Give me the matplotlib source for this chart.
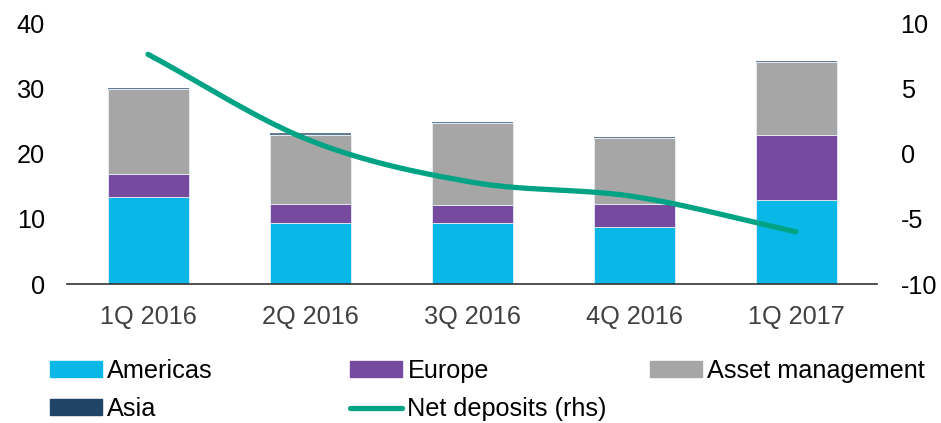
import numpy as np
import matplotlib
matplotlib.use("Agg")
import matplotlib.pyplot as plt
from matplotlib.patches import Patch
from matplotlib.lines import Line2D

plt.rcParams["font.family"] = ["Liberation Sans", "DejaVu Sans"]
plt.rcParams["axes.unicode_minus"] = False

quarters = ["1Q 2016", "2Q 2016", "3Q 2016", "4Q 2016", "1Q 2017"]
americas = [13.4, 9.3, 9.3, 8.75, 12.8]
europe = [3.4, 2.9, 2.8, 3.45, 10.1]
asset_mgmt = [13.1, 10.7, 12.5, 10.2, 11.1]
asia = [0.2, 0.2, 0.2, 0.2, 0.2]
net_deposits = [7.6, 1.0, -2.2, -3.3, -6.0]

C_AMERICAS = "#0ab8e8"
C_EUROPE = "#764a9f"
C_ASSET = "#a6a6a6"
C_ASIA = "#1f4466"
C_LINE = "#00a384"
FS = 18.2


def smooth(xs, ys, n=40):
    # catmull-rom style curve through the points, like excel's smoothed line
    xs = np.asarray(xs, float)
    ys = np.asarray(ys, float)
    px = np.concatenate([[2 * xs[0] - xs[1]], xs, [2 * xs[-1] - xs[-2]]])
    py = np.concatenate([[2 * ys[0] - ys[1]], ys, [2 * ys[-1] - ys[-2]]])
    out_x, out_y = [], []
    t = np.linspace(0, 1, n)
    for i in range(1, len(px) - 2):
        for arr, out in ((px, out_x), (py, out_y)):
            p0, p1, p2, p3 = arr[i - 1], arr[i], arr[i + 1], arr[i + 2]
            seg = 0.5 * ((2 * p1) + (-p0 + p2) * t
                         + (2 * p0 - 5 * p1 + 4 * p2 - p3) * t ** 2
                         + (-p0 + 3 * p1 - 3 * p2 + p3) * t ** 3)
            out.extend(seg)
    return np.array(out_x), np.array(out_y)


fig = plt.figure(figsize=(9.41, 4.23), dpi=100)
ax = fig.add_axes([67 / 941, 1 - 284 / 423, (877 - 67) / 941, (284 - 23) / 423])
ax2 = ax.twinx()

x = np.arange(len(quarters))
w = 0.5
edge = dict(edgecolor="#e6eef4", linewidth=0.6)
ax.bar(x, americas, w, color=C_AMERICAS, **edge)
b1 = np.array(americas)
ax.bar(x, europe, w, bottom=b1, color=C_EUROPE, **edge)
b2 = b1 + np.array(europe)
ax.bar(x, asset_mgmt, w, bottom=b2, color=C_ASSET, **edge)
b3 = b2 + np.array(asset_mgmt)
ax.bar(x, asia, w, bottom=b3, color=C_ASIA, edgecolor="none", alpha=0.7)

sx, sy = smooth(x, net_deposits)
ax2.plot(sx, sy, color=C_LINE, linewidth=3.8, solid_capstyle="round")

ax.set_xlim(-0.5, 4.5)
ax.set_ylim(0, 40)
ax.set_yticks([0, 10, 20, 30, 40])
ax2.set_ylim(-10, 10)
ax2.set_yticks([-10, -5, 0, 5, 10])
ax.set_xticks(x)
ax.set_xticklabels(quarters)

for a in (ax, ax2):
    for s in ("top", "left", "right", "bottom"):
        a.spines[s].set_visible(False)
    a.tick_params(length=0, labelsize=FS)
ax.spines["bottom"].set_visible(True)
ax.spines["bottom"].set_color("#333333")
ax.spines["bottom"].set_linewidth(1.2)
ax.tick_params(axis="y", pad=16, colors="#000000")
ax.tick_params(axis="x", pad=15, labelcolor="#404040")
ax2.tick_params(axis="y", pad=17)

leg_kw = dict(frameon=False, fontsize=FS, handlelength=2.05, handleheight=0.55,
              handletextpad=0.22, labelspacing=0.55, borderaxespad=0, borderpad=0)
cols = [
    (50, [Patch(color=C_AMERICAS), Patch(color=C_ASIA)], ["Americas", "Asia"]),
    (350, [Patch(color=C_EUROPE), Line2D([], [], color=C_LINE, linewidth=3.8,
                                          solid_capstyle="round")],
     ["Europe", "Net deposits (rhs)"]),
    (650, [Patch(color=C_ASSET)], ["Asset management"]),
]
for xpos, handles, labels in cols:
    fig.legend(handles, labels, loc="upper left",
               bbox_to_anchor=(xpos / 941, 1 - 359 / 423), **leg_kw)

fig.savefig("out.png", dpi=100)
